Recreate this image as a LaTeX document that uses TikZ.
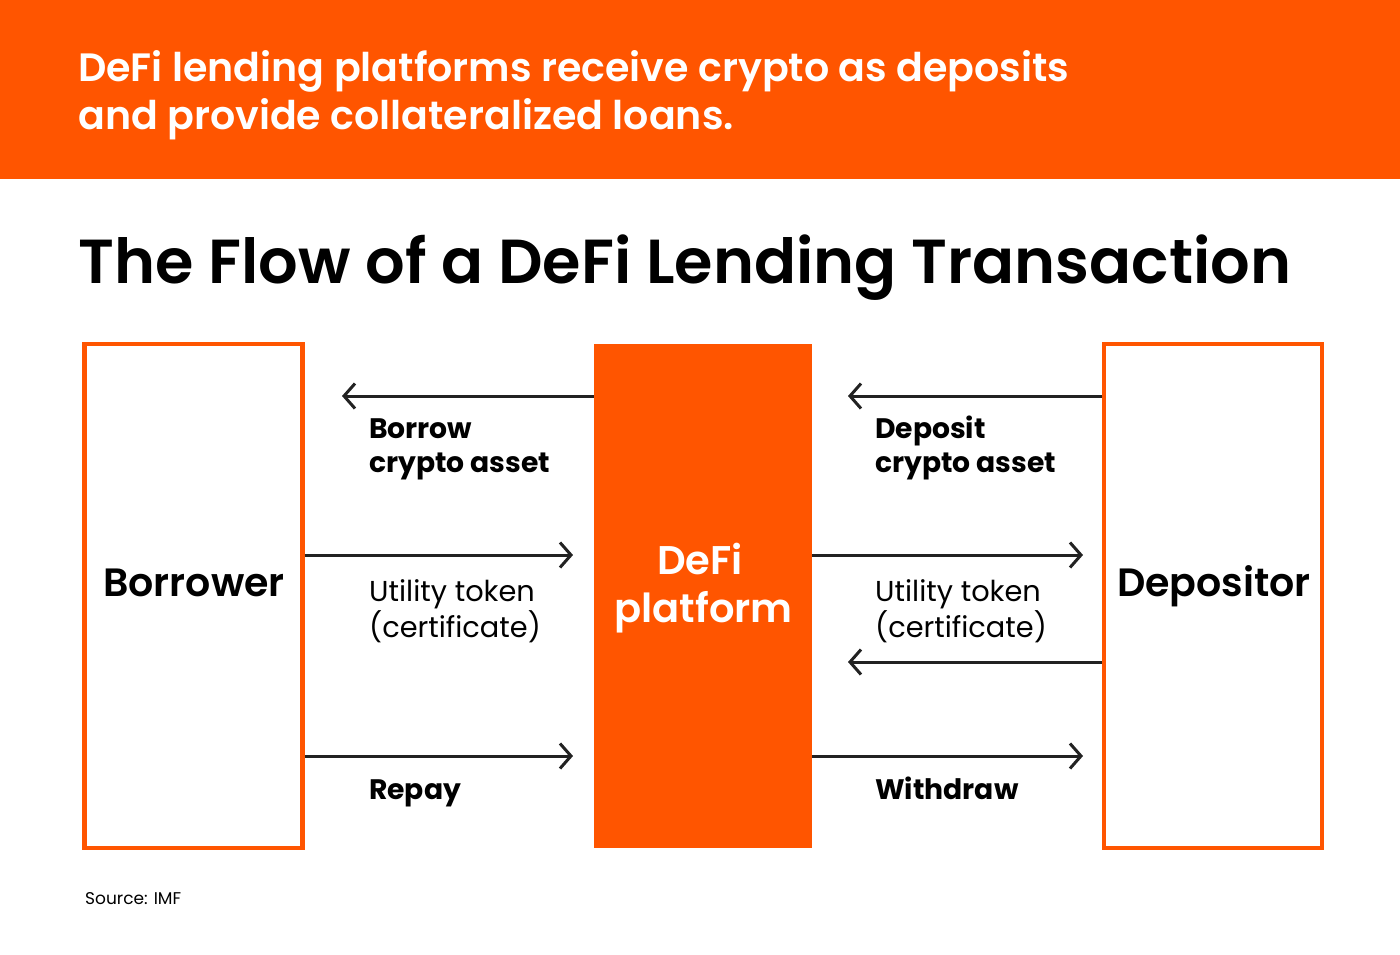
\documentclass[tikz,border=0pt]{standalone}
\usepackage{fontspec}
\setmainfont{Poppins}
\newfontfamily\semibold{Poppins SemiBold}
\usepackage{xcolor}
\usetikzlibrary{positioning,arrows.meta}
\definecolor{defiorange}{HTML}{FF5500}
\definecolor{lineink}{HTML}{222222}
\tikzset{
  outerbox/.style={draw=defiorange,line width=4.5pt,fill=white,minimum width=218pt,minimum height=504pt,inner sep=0pt},
  boxtext/.style={anchor=base,inner sep=0pt,font=\fontsize{39.5}{46}\semibold},
  flowline/.style={-{Straight Barb[length=11pt,width=25pt,line width=3pt]},line width=3pt,draw=lineink},
  boldlabel/.style={anchor=base west,align=left,inner sep=0pt,font=\fontsize{28.2}{34}\selectfont\bfseries},
  plainlabel/.style={anchor=base west,align=left,inner sep=0pt,font=\fontsize{28.8}{33}\selectfont},
}
\begin{document}
\begin{tikzpicture}[x=1pt,y=-1pt]
    \useasboundingbox (0,0) rectangle (1400,954);
    \fill[defiorange] (0,0) rectangle (1400,179);

    \node[anchor=west,text=white,align=left,inner sep=0pt,font=\fontsize{39.55}{47.5}\semibold] (banner) at (78,95) {DeFi lending platforms receive crypto as deposits\\and provide collateralized loans.};
    \node[anchor=base west,inner sep=0pt,font=\fontsize{62.15}{70}\semibold] (title) at (78,283) {The Flow of a DeFi Lending Transaction};

    \node[outerbox] (borrower) at (193.5,596) {};
    \node[outerbox] (depositor) at (1213,596) {};
    \node[fill=defiorange,minimum width=218pt,minimum height=504pt,inner sep=0pt] (platform) at (703,596) {};

    \node[boxtext] (borrowerName) at (194,596) {Borrower};
    \node[boxtext] (depositorName) at (1214,596) {Depositor};
    \node[text=white,align=center,inner sep=0pt,font=\fontsize{40}{48}\semibold] (platformName) at (703.5,588) {DeFi\kern7pt\\platform};

    \coordinate (borrowEnd) at (342,396);
    \coordinate (depositEnd) at (848,396);
    \coordinate (tokenEndL) at (573,555);
    \coordinate (tokenEndR) at (1083,555);
    \coordinate (backEnd) at (848,662);
    \coordinate (repayEnd) at (573,756);
    \coordinate (withdrawEnd) at (1083,756);

    \draw[flowline] (platform.west |- borrowEnd) -- (borrowEnd);
    \draw[flowline] (depositor.west |- depositEnd) -- (depositEnd);
    \draw[flowline] (borrower.east |- tokenEndL) -- (tokenEndL);
    \draw[flowline] (platform.east |- tokenEndR) -- (tokenEndR);
    \draw[flowline] (depositor.west |- backEnd) -- (backEnd);
    \draw[flowline] (borrower.east |- repayEnd) -- (repayEnd);
    \draw[flowline] (platform.east |- withdrawEnd) -- (withdrawEnd);

    \node[boldlabel] (borrowLabel) at (369,472) {Borrow\\crypto asset};
    \node[boldlabel] (depositLabel) at (875,472) {Deposit\\crypto asset};
    \node[plainlabel] (tokenLabelL) at (369,637) {Utility token\\(certificate)};
    \node[plainlabel] (tokenLabelR) at (875,637) {Utility token\\(certificate)};
    \node[boldlabel] (repayLabel) at (369,799) {Repay};
    \node[boldlabel] (withdrawLabel) at (875,799) {Withdraw};

    \node[anchor=west,inner sep=0pt,font=\fontsize{17}{20}\selectfont] (source) at (85,899) {Source: IMF};
\end{tikzpicture}
\end{document}
